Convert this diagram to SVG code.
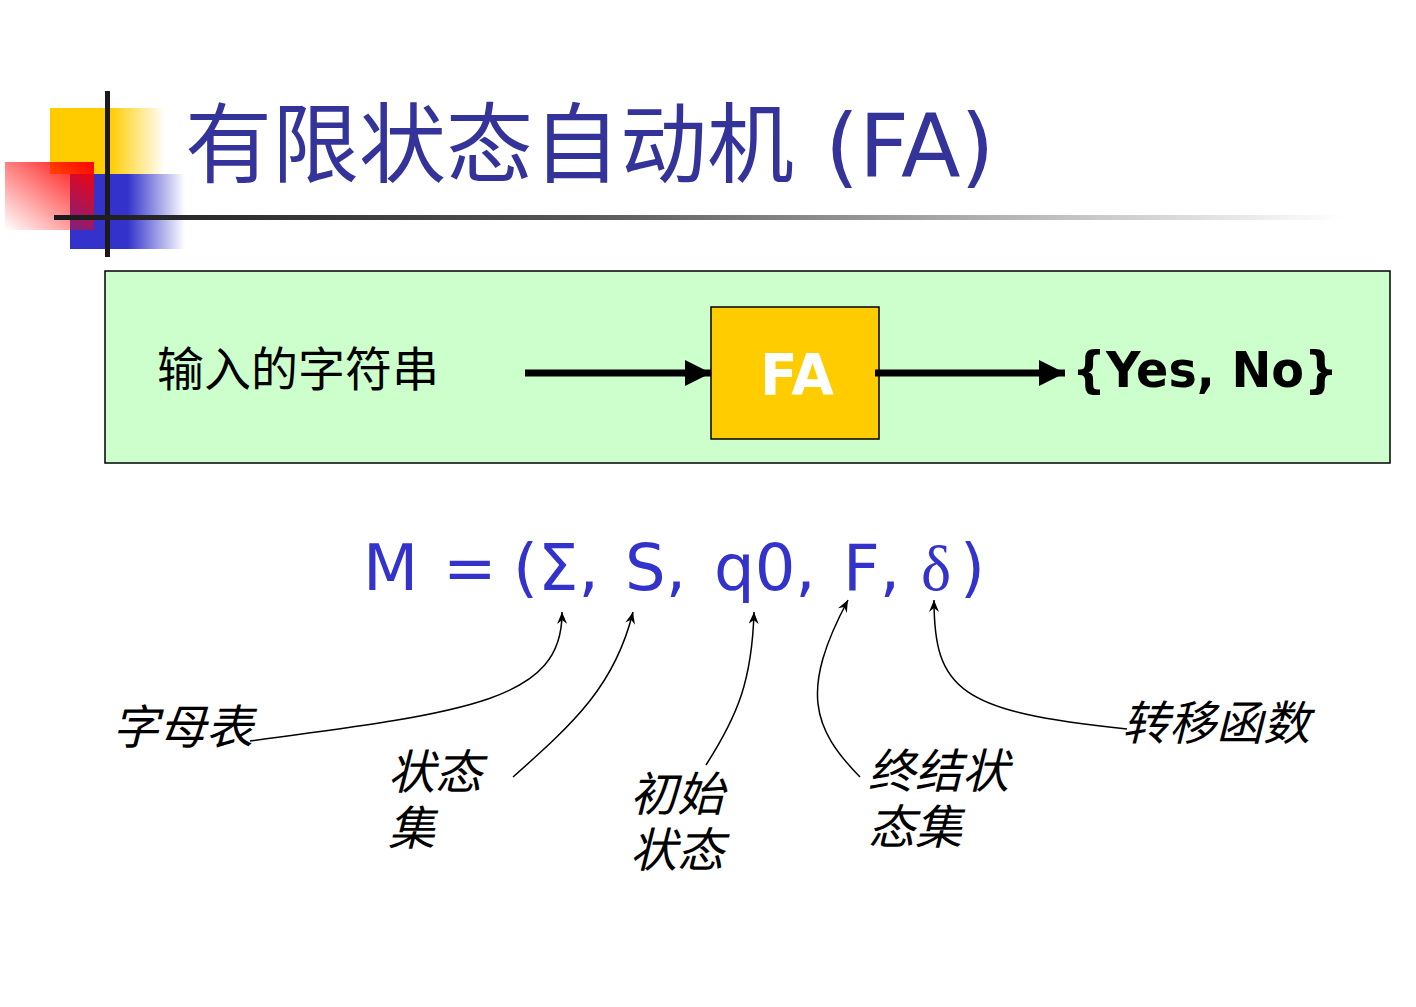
<svg xmlns="http://www.w3.org/2000/svg" width="1416" height="1007" viewBox="0 0 1416 1007">
<defs>
<style>
.cjk{font-family:"Noto Sans CJK SC",sans-serif}
.lbl{font-family:"Noto Sans CJK SC",sans-serif;font-style:italic;font-size:47px;fill:#000}
.conn{fill:none;stroke:#000;stroke-width:1.5}
.formula{font-family:"DejaVu Sans",sans-serif;font-size:64px;fill:#3333CC}
</style>
<linearGradient id="gYel" x1="0" y1="0" x2="1" y2="0">
<stop offset="0" stop-color="#FFCC00"/><stop offset="0.52" stop-color="#FFCC00"/><stop offset="1" stop-color="#FFCC00" stop-opacity="0"/>
</linearGradient>
<linearGradient id="gBlue" x1="0" y1="0" x2="1" y2="0">
<stop offset="0" stop-color="#3333CC"/><stop offset="0.5" stop-color="#3333CC"/><stop offset="1" stop-color="#3333CC" stop-opacity="0"/>
</linearGradient>
<linearGradient id="gRed" x1="1" y1="0" x2="0" y2="1">
<stop offset="0" stop-color="#FF0000"/><stop offset="1" stop-color="#FF0000" stop-opacity="0"/>
</linearGradient>
<linearGradient id="gLine" x1="0" y1="0" x2="1" y2="0">
<stop offset="0" stop-color="#1a1a1a"/><stop offset="0.4" stop-color="#555"/><stop offset="1" stop-color="#fff"/>
</linearGradient>
<marker id="bigArrow" viewBox="0 0 26 26" refX="26" refY="13" markerWidth="26" markerHeight="26" markerUnits="userSpaceOnUse" orient="auto">
<path d="M0,0 L26,13 L0,26 z" fill="#000"/>
</marker>
<marker id="smallArrow" viewBox="0 0 12 10" refX="12" refY="5" markerWidth="12" markerHeight="10" markerUnits="userSpaceOnUse" orient="auto">
<path d="M0,0 L12,5 L0,10 L4,5 z" fill="#000"/>
</marker>
</defs>
<rect width="1416" height="1007" fill="#fff"/>

<g id="header">
<rect x="50" y="108" width="115" height="66" fill="url(#gYel)"/>
<rect x="70" y="174" width="115" height="75" fill="url(#gBlue)"/>
<rect x="5" y="162" width="89" height="68" fill="url(#gRed)"/>
<rect x="105" y="91" width="5" height="166" fill="#1a1a1a"/>
<rect x="54" y="215" width="1290" height="5" fill="url(#gLine)"/>
<text x="185" y="176" class="cjk" font-size="87" fill="#333399">有限状态自动机 <tspan x="825" font-family="DejaVu Sans, sans-serif">(FA)</tspan></text>
</g>

<g id="panel">
<rect x="105" y="271" width="1285" height="192" fill="#CCFFCC" stroke="#000" stroke-width="1.5"/>
</g>

<g id="input">
<text x="157" y="386" class="cjk" font-size="47" fill="#000">输入的字符串</text>
</g>

<g id="fa">
<rect x="711" y="307" width="168" height="132" fill="#FFCC00" stroke="#000" stroke-width="1.5"/>
<text x="760" y="395" font-family="DejaVu Sans, sans-serif" font-weight="bold" font-size="57" fill="#fff" textLength="74" lengthAdjust="spacingAndGlyphs">FA</text>
</g>

<g id="output">
<text x="1072" y="387" font-family="DejaVu Sans, sans-serif" font-weight="bold" font-size="50" fill="#000" textLength="266" lengthAdjust="spacingAndGlyphs">{Yes, No}</text>
</g>

<g id="formula">
<text y="590" class="formula"><tspan x="363">M</tspan><tspan x="443">=</tspan><tspan x="513">(Σ,</tspan><tspan x="625">S,</tspan><tspan x="714">q0,</tspan><tspan x="843">F,</tspan><tspan x="921" font-family="Liberation Serif, serif">δ</tspan><tspan x="960">)</tspan></text>
</g>

<g id="label-alphabet"><text x="112" y="744" class="lbl">字母表</text></g>
<g id="label-states"><text class="lbl"><tspan x="388" y="789">状态</tspan><tspan x="388" y="845">集</tspan></text></g>
<g id="label-initial"><text class="lbl"><tspan x="630" y="811">初始</tspan><tspan x="630" y="867">状态</tspan></text></g>
<g id="label-final"><text class="lbl"><tspan x="868" y="788">终结状</tspan><tspan x="868" y="844">态集</tspan></text></g>
<g id="label-delta"><text x="1122" y="740" class="lbl">转移函数</text></g>

<g id="connectors">
<line x1="525" y1="373" x2="711" y2="373" stroke="#000" stroke-width="7" marker-end="url(#bigArrow)"/>
<line x1="875" y1="373" x2="1065" y2="373" stroke="#000" stroke-width="7" marker-end="url(#bigArrow)"/>
<path class="conn" d="M250,741 C470,712 563,700 562,612" marker-end="url(#smallArrow)"/>
<path class="conn" d="M513,777 C575,722 615,685 633,612" marker-end="url(#smallArrow)"/>
<path class="conn" d="M706,765 C738,715 752,680 754,612" marker-end="url(#smallArrow)"/>
<path class="conn" d="M860,777 C812,728 800,690 848,600" marker-end="url(#smallArrow)"/>
<path class="conn" d="M1127,729 C960,712 934,690 934,600" marker-end="url(#smallArrow)"/>
</g>
</svg>
